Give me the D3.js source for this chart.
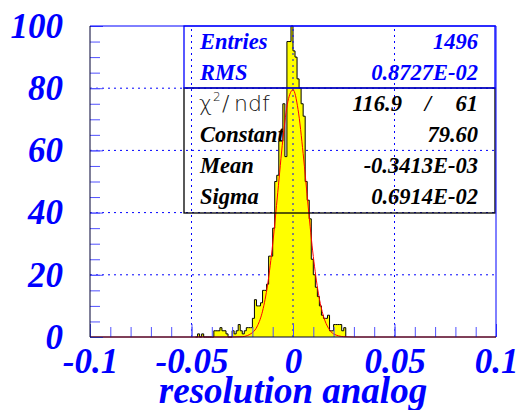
<!doctype html>
<html lang="en">
<head>
  <title>resolution analog</title>
  <script src="https://d3js.org/d3.v7.min.js"></script>
  <style>
    body { margin: 0px; background: #ffffff; }
    .big { font-family: "Liberation Serif", "Times New Roman", serif; font-weight: bold; font-style: italic; fill: #0000ff; }
    .stat { font-family: "Liberation Serif", "Times New Roman", serif; font-weight: bold; font-style: italic; font-size: 22.5px; }
    .thin { font-family: "DejaVu Sans", sans-serif; font-weight: 200; font-size: 22px; fill: #111111; }
  </style>
</head>
<body>
  <div id="container"></div>
  <script>
    // histogram: 1 bin = 0.001, bins start at -0.048
    var binStart = -0.048;
    var binWidth = 0.001;
    var counts = [0, 1, 0, 1, 0, 0, 0, 0, 0,
                  2, 2, 2, 3, 2, 2, 1,
                  0, 0,
                  2, 1, 2, 4, 2, 1, 2, 3, 3, 3,
                  6, 12, 10, 10, 11, 15, 15, 17, 26, 26, 35,
                  50, 52, 63, 63, 75, 58, 95, 95, 100,
                  92, 90, 83, 80, 75, 71, 50, 44, 38,
                  25, 20, 16, 13, 10, 7, 6, 6, 7, 2, 2, 4, 4, 4, 4, 2, 3];

    // red fit curve
    var fitX = [-0.1, -0.03, -0.025, -0.02, -0.0175, -0.015, -0.0125, -0.01, -0.0075, -0.005, -0.0025,
                0, 0.0025, 0.005, 0.0075, 0.01, 0.0125, 0.015, 0.0175, 0.02, 0.025, 0.03, 0.1];
    var fitY = [0, 0, 0.1, 1.4, 3.6, 8.3, 16.9, 29.9, 46.5, 63.4, 75.8,
                79.5, 73.1, 59.0, 41.8, 25.9, 14.1, 6.7, 2.8, 1.0, 0.1, 0, 0];

    var xTicks = [-0.1, -0.05, 0, 0.05, 0.1];
    var xTickLabels = ["-0.1", "-0.05", "0", "0.05", "0.1"];
    var yTicks = [0, 20, 40, 60, 80, 100];

    var statTop = [["Entries", "1496"], ["RMS", "0.8727E-02"]];
    var statFit = [["Constant", "79.60"], ["Mean", "-0.3413E-03"], ["Sigma", "0.6914E-02"]];
    var chi2 = "116.9", ndf = "61";

    var svg = d3.select('#container').append('svg')
        .attr('width', 519)
        .attr('height', 410);

    var x = d3.scaleLinear().domain([-0.1, 0.1]).range([90, 496]);
    var y = d3.scaleLinear().domain([0, 100]).range([337, 26]);

    // horizontal grid (behind)
    svg.append('g').selectAll('line')
        .data(yTicks.slice(1, -1))
        .enter().append('line')
        .attr('x1', x(-0.1)).attr('x2', x(0.1))
        .attr('y1', function (d) { return y(d); })
        .attr('y2', function (d) { return y(d); })
        .attr('stroke', '#0000ff')
        .attr('stroke-dasharray', '2,4');

    // vertical grid at -0.05 and 0.05 behind
    svg.append('g').selectAll('line')
        .data([-0.05, 0.05])
        .enter().append('line')
        .attr('x1', function (d) { return x(d); })
        .attr('x2', function (d) { return x(d); })
        .attr('y1', y(0)).attr('y2', y(100))
        .attr('stroke', '#0000ff')
        .attr('stroke-dasharray', '2,4');

    // stats text (histogram is drawn over it)
    var bx0 = 184, bx1 = 495, rowY = [49, 80, 111, 142, 173, 204];
    statTop.forEach(function (r, i) {
        svg.append('text').attr('class', 'stat').attr('fill', '#0000ff')
            .attr('x', 200).attr('y', rowY[i]).text(r[0]);
        svg.append('text').attr('class', 'stat').attr('fill', '#0000ff')
            .attr('x', 478).attr('y', rowY[i]).attr('text-anchor', 'end').text(r[1]);
    });
    svg.append('text').attr('class', 'thin').attr('x', 199).attr('y', rowY[2]).text('χ');
    svg.append('text').attr('class', 'thin').style('font-size', '12px').attr('x', 213).attr('y', rowY[2] - 10).text('2');
    svg.append('text').attr('class', 'thin').attr('x', 222).attr('y', rowY[2]).text('/');
    svg.append('text').attr('class', 'thin').attr('x', 234).attr('y', rowY[2]).text('ndf');
    svg.append('text').attr('class', 'stat').attr('fill', '#000')
        .attr('x', 402).attr('y', rowY[2]).attr('text-anchor', 'end').text(chi2);
    svg.append('text').attr('class', 'stat').attr('fill', '#000')
        .attr('x', 428).attr('y', rowY[2]).attr('text-anchor', 'middle').text('/');
    svg.append('text').attr('class', 'stat').attr('fill', '#000')
        .attr('x', 478).attr('y', rowY[2]).attr('text-anchor', 'end').text(ndf);
    statFit.forEach(function (r, i) {
        svg.append('text').attr('class', 'stat').attr('fill', '#000')
            .attr('x', 200).attr('y', rowY[i + 3]).text(r[0]);
        svg.append('text').attr('class', 'stat').attr('fill', '#000')
            .attr('x', 478).attr('y', rowY[i + 3]).attr('text-anchor', 'end').text(r[1]);
    });

    // histogram outline
    var pts = [[binStart, 0]];
    counts.forEach(function (c, i) {
        var lo = binStart + i * binWidth;
        pts.push([lo, c]);
        pts.push([lo + binWidth, c]);
    });
    pts.push([binStart + counts.length * binWidth, 0]);

    var histLine = d3.line()
        .x(function (d) { return x(d[0]); })
        .y(function (d) { return y(d[1]); });

    svg.append('path')
        .attr('d', histLine(pts))
        .attr('fill', '#ffff00')
        .attr('stroke', '#000')
        .attr('stroke-width', 1);

    // vertical grid at 0 (shows over the histogram)
    svg.append('line')
        .attr('x1', x(0)).attr('x2', x(0))
        .attr('y1', y(0)).attr('y2', y(100))
        .attr('stroke', '#0000ff')
        .attr('stroke-dasharray', '2,4');

    // fit
    var fitLine = d3.line()
        .x(function (d, i) { return x(fitX[i]); })
        .y(function (d) { return y(d); })
        .curve(d3.curveMonotoneX);
    svg.append('path')
        .attr('d', fitLine(fitY))
        .attr('fill', 'none')
        .attr('stroke', '#ff0000')
        .attr('stroke-width', 1);

    // stats box borders
    svg.append('rect').attr('x', bx0).attr('y', 88).attr('width', bx1 - bx0).attr('height', 125)
        .attr('fill', 'none').attr('stroke', '#000').attr('stroke-width', 1.3);
    svg.append('rect').attr('x', bx0).attr('y', 26).attr('width', bx1 - bx0).attr('height', 62)
        .attr('fill', 'none').attr('stroke', '#0000ff').attr('stroke-width', 1.3);

    // axes
    var yAxis = svg.append('g')
        .attr('transform', 'translate(90,0)')
        .call(d3.axisLeft(y).tickValues(d3.range(0, 101, 5)).tickSize(-10).tickFormat(''));
    yAxis.select('.domain').remove();
    yAxis.selectAll('text').remove();
    yAxis.selectAll('line').attr('stroke', '#5050ff');

    var yAxisMaj = svg.append('g')
        .attr('class', 'big')
        .attr('transform', 'translate(90,0)')
        .call(d3.axisLeft(y).tickValues(yTicks).tickSize(-13).tickPadding(27));
    yAxisMaj.select('.domain').remove();
    yAxisMaj.selectAll('line').attr('stroke', '#5050ff');
    yAxisMaj.selectAll('text')
        .attr('class', 'big')
        .attr('fill', '#0000ff')
        .style('font-size', '35px');

    var xAxis = svg.append('g')
        .attr('transform', 'translate(0,337)')
        .call(d3.axisBottom(x).tickValues(d3.range(-10, 11).map(function (d) { return d / 100; }))
            .tickSize(-10).tickFormat(''));
    xAxis.select('.domain').remove();
    xAxis.selectAll('text').remove();
    xAxis.selectAll('line').attr('stroke', '#5050ff');

    var xAxisMaj = svg.append('g')
        .attr('transform', 'translate(0,337)')
        .call(d3.axisBottom(x).tickValues(xTicks).tickSize(-13)
            .tickFormat(function (d, i) { return xTickLabels[i]; }));
    xAxisMaj.select('.domain').remove();
    xAxisMaj.selectAll('line').attr('stroke', '#5050ff');
    xAxisMaj.selectAll('text')
        .attr('class', 'big')
        .attr('fill', '#0000ff')
        .attr('y', 36).attr('dy', null)
        .style('font-size', '35px');

    // frame
    svg.append('line').attr('x1', 90).attr('x2', 496).attr('y1', 26).attr('y2', 26).attr('stroke', '#0000ff');
    svg.append('line').attr('x1', 496).attr('x2', 496).attr('y1', 26).attr('y2', 337).attr('stroke', '#0000ff');
    svg.append('line').attr('x1', 90).attr('x2', 90).attr('y1', 26).attr('y2', 337).attr('stroke', '#000033');
    svg.append('line').attr('x1', 90).attr('x2', 496).attr('y1', 337).attr('y2', 337).attr('stroke', '#000033');

    // axis title
    svg.append('text')
        .attr('class', 'big')
        .attr('x', 293).attr('y', 403)
        .attr('text-anchor', 'middle')
        .style('font-size', '37px')
        .text('resolution analog');
  </script>
</body>
</html>
